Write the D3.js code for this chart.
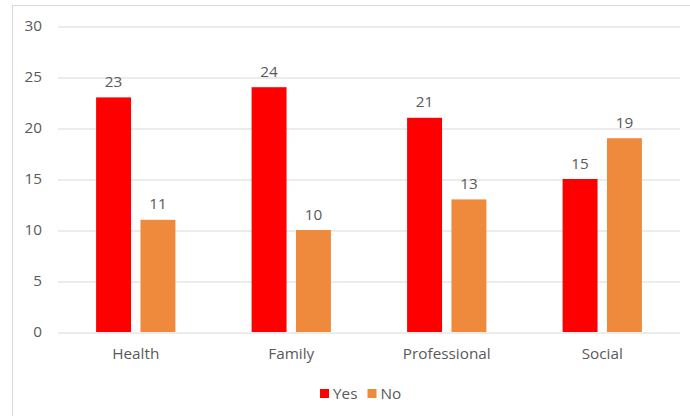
<!DOCTYPE html>
<html>
<head>
<meta charset="utf-8">
<script src="https://cdn.jsdelivr.net/npm/d3@7"></script>
<style>
  html, body { margin: 0; padding: 0; background: #fff; }
  svg { display: block; }
  text { font-family: "Open Sans", "Noto Sans", sans-serif; fill: #595959; }
</style>
</head>
<body>
<svg id="chart" width="690" height="416"></svg>
<script>
// Survey answers per area of life
const categories = ["Health", "Family", "Professional", "Social"];
const seriesNames = ["Yes", "No"];
const yesValues = [23, 24, 21, 15];
const noValues = [11, 10, 13, 19];
const yTicks = [0, 5, 10, 15, 20, 25, 30];
const seriesColors = ["#FF0000", "#EF8A3D"];

const rows = categories.map((c, i) => ({ category: c, values: [yesValues[i], noValues[i]] }));

const svg = d3.select("#chart");
const plot = { left: 58, right: 680, top: 26, bottom: 332 };
const fontSize = 15.3;

// Outer chart frame (right and bottom edges fall outside the view)
svg.append("rect")
  .attr("x", 12.5).attr("y", 5.5)
  .attr("width", 700).attr("height", 430)
  .attr("fill", "none").attr("stroke", "#d9d9d9").attr("stroke-width", 1);

const y = d3.scaleLinear().domain([0, 30]).range([plot.bottom, plot.top]);
const x0 = d3.scaleBand().domain(categories).range([plot.left, plot.right]).paddingInner(0.49).paddingOuter(0.245);
const x1 = d3.scaleBand().domain(seriesNames).range([0, x0.bandwidth()]).paddingInner(0.212);

// Horizontal gridlines
const yAxis = d3.axisLeft(y).tickValues(yTicks).tickSize(-(plot.right - plot.left)).tickPadding(16);
const gy = svg.append("g").attr("transform", `translate(${plot.left},0)`).call(yAxis);
gy.select(".domain").remove();
gy.selectAll(".tick line").attr("stroke", "#d9d9d9").attr("stroke-width", 1)
  .attr("transform", "translate(0,0.5)");
gy.selectAll(".tick text").attr("font-size", fontSize).attr("fill", "#595959").attr("x", -16)
  .style("font-family", "'Open Sans', 'Noto Sans', sans-serif");

// Category labels
const xAxis = d3.axisBottom(x0).tickSize(0).tickPadding(16);
const gx = svg.append("g").attr("transform", `translate(0,${plot.bottom})`).call(xAxis);
gx.select(".domain").remove();
gx.selectAll(".tick text").attr("font-size", fontSize).attr("fill", "#595959")
  .style("font-family", "'Open Sans', 'Noto Sans', sans-serif");

// Bars and value labels
const groups = svg.append("g").selectAll("g").data(rows).join("g")
  .attr("transform", d => `translate(${x0(d.category)},0)`);

groups.selectAll("rect").data(d => d.values.map((v, i) => ({ key: seriesNames[i], value: v, i })))
  .join("rect")
  .attr("x", d => x1(d.key))
  .attr("y", d => y(d.value))
  .attr("width", x1.bandwidth())
  .attr("height", d => y(0) - y(d.value))
  .attr("fill", d => seriesColors[d.i]);

groups.selectAll("text.val").data(d => d.values.map((v, i) => ({ key: seriesNames[i], value: v })))
  .join("text")
  .attr("class", "val")
  .attr("x", d => x1(d.key) + x1.bandwidth() / 2)
  .attr("y", d => y(d.value) - 10.5)
  .attr("text-anchor", "middle")
  .attr("font-size", fontSize)
  .text(d => d.value);

// Legend
const legend = svg.append("g");
const legendItems = [{ name: "Yes", x: 320 }, { name: "No", x: 367.5 }];
legendItems.forEach((item, i) => {
  legend.append("rect").attr("x", item.x).attr("y", 389)
    .attr("width", 9).attr("height", 9).attr("fill", seriesColors[i]);
  legend.append("text").attr("x", item.x + 13).attr("y", 398.5)
    .attr("font-size", fontSize).text(item.name);
});
</script>
</body>
</html>
